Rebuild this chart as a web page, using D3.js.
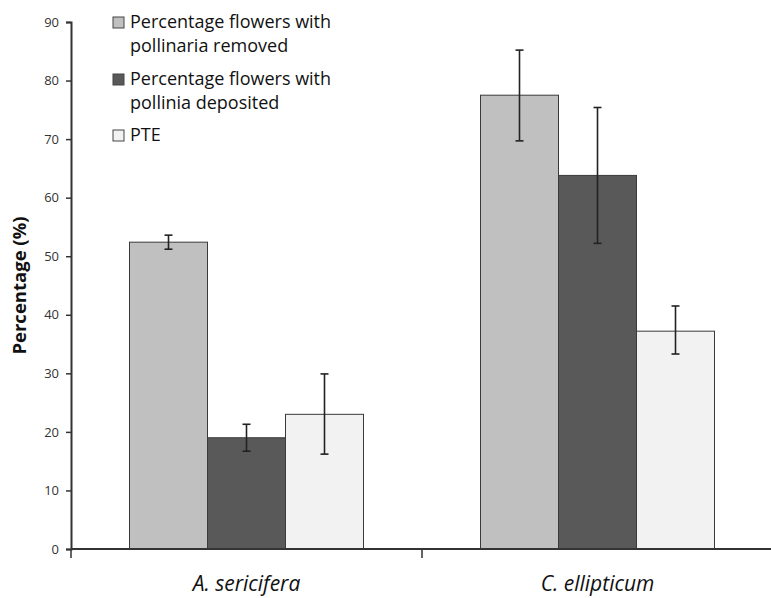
<!DOCTYPE html>
<html>
<head>
<meta charset="utf-8">
<script src="https://cdn.jsdelivr.net/npm/d3@7"></script>
<style>
  body { margin: 0; background: #fff; }
  svg { display: block; font-family: "Open Sans", sans-serif; }
</style>
</head>
<body>
<div id="svg-wrapper"></div>
<script>
// data
const species = ["A. sericifera", "C. ellipticum"];
const seriesNames = [
  ["Percentage flowers with", "pollinaria removed"],
  ["Percentage flowers with", "pollinia deposited"],
  ["PTE"]
];
const seriesKeys = ["removed", "deposited", "pte"];
const removedValues = [52.4, 77.5];
const removedLow = [51.2, 69.7];
const removedHigh = [53.6, 85.2];
const depositedValues = [19.0, 63.8];
const depositedLow = [16.7, 52.2];
const depositedHigh = [21.3, 75.4];
const pteValues = [23.0, 37.2];
const pteLow = [16.2, 33.3];
const pteHigh = [29.9, 41.5];
const yTicks = [0, 10, 20, 30, 40, 50, 60, 70, 80, 90];

const colors = ["#c0c0c0", "#595959", "#f2f2f2"];

// build rows
const rows = [];
species.forEach((s, i) => {
  rows.push({ sp: s, key: "removed", v: removedValues[i], lo: removedLow[i], hi: removedHigh[i] });
  rows.push({ sp: s, key: "deposited", v: depositedValues[i], lo: depositedLow[i], hi: depositedHigh[i] });
  rows.push({ sp: s, key: "pte", v: pteValues[i], lo: pteLow[i], hi: pteHigh[i] });
});

const svgWidth = 771, svgHeight = 598;
const marginLeft = 71, marginTop = 22, plotHeight = 527, bandWidth = 351;

const svg = d3.select("#svg-wrapper").append("svg")
  .attr("width", svgWidth).attr("height", svgHeight);

// scales
const yScale = d3.scaleLinear().domain([0, 90]).range([marginTop + plotHeight, marginTop]);
const xScale = d3.scaleBand().domain(species)
  .range([marginLeft, marginLeft + bandWidth * species.length])
  .paddingInner(0).paddingOuter(0);
const xInner = d3.scaleBand().domain(seriesKeys)
  .range([0, bandWidth]).paddingOuter(0.75).paddingInner(0);
const colorScale = d3.scaleOrdinal().domain(seriesKeys).range(colors);

// bars
svg.append("g").selectAll("rect").data(rows).enter().append("rect")
  .attr("x", d => xScale(d.sp) + xInner(d.key))
  .attr("y", d => yScale(d.v))
  .attr("width", xInner.bandwidth())
  .attr("height", d => yScale(0) - yScale(d.v))
  .attr("fill", d => colorScale(d.key))
  .attr("stroke", "#3a3a3a")
  .attr("stroke-width", 1);

// error bars
const err = svg.append("g").attr("stroke", "#222").attr("stroke-width", 1.6);
rows.forEach(d => {
  const cx = xScale(d.sp) + xInner(d.key) + xInner.bandwidth() / 2;
  err.append("line").attr("x1", cx).attr("x2", cx)
    .attr("y1", yScale(d.lo)).attr("y2", yScale(d.hi));
  [d.lo, d.hi].forEach(e => {
    err.append("line").attr("x1", cx - 4).attr("x2", cx + 4)
      .attr("y1", yScale(e)).attr("y2", yScale(e));
  });
});

// y axis
const yAxis = d3.axisLeft(yScale).tickValues(yTicks).tickSize(5).tickPadding(7);
const gy = svg.append("g").attr("transform", `translate(${marginLeft},0)`).call(yAxis);
gy.select(".domain").attr("stroke", "#333").attr("stroke-width", 2);
gy.selectAll(".tick line").attr("stroke", "#333").attr("stroke-width", 1.5);
gy.selectAll(".tick text").attr("font-size", 13).attr("fill", "#333")
  .attr("font-family", "'Liberation Sans Narrow', 'Open Sans', sans-serif");

// x axis line + category dividers
const gx = svg.append("g").attr("stroke", "#333");
gx.append("line").attr("x1", marginLeft).attr("x2", svgWidth)
  .attr("y1", yScale(0)).attr("y2", yScale(0)).attr("stroke-width", 2);
[marginLeft, marginLeft + bandWidth].forEach(x => {
  gx.append("line").attr("x1", x).attr("x2", x)
    .attr("y1", yScale(0)).attr("y2", yScale(0) + 9).attr("stroke-width", 1.5);
});

// category labels
svg.append("g").selectAll("text").data(species).enter().append("text")
  .attr("x", d => xScale(d) + bandWidth / 2)
  .attr("y", 591)
  .attr("text-anchor", "middle")
  .attr("font-size", 21)
  .attr("font-style", "italic")
  .attr("fill", "#111")
  .text(d => d);

// y label
svg.append("text")
  .attr("transform", `translate(26,${yScale(45)}) rotate(-90)`)
  .attr("text-anchor", "middle")
  .attr("font-size", 18.5)
  .attr("font-weight", "bold")
  .attr("fill", "#111")
  .text("Percentage (%)");

// legend
const legendY = [28, 85, 141];
const legend = svg.append("g");
seriesKeys.forEach((k, i) => {
  legend.append("rect")
    .attr("x", 113).attr("y", legendY[i] - 11)
    .attr("width", 11).attr("height", 11)
    .attr("fill", colors[i]).attr("stroke", "#444").attr("stroke-width", 1);
  const t = legend.append("text")
    .attr("x", 130).attr("y", legendY[i])
    .attr("font-size", 18).attr("fill", "#111");
  seriesNames[i].forEach((line, j) => {
    t.append("tspan").attr("x", 130).attr("dy", j === 0 ? 0 : 23.5).text(line);
  });
});
</script>
</body>
</html>
